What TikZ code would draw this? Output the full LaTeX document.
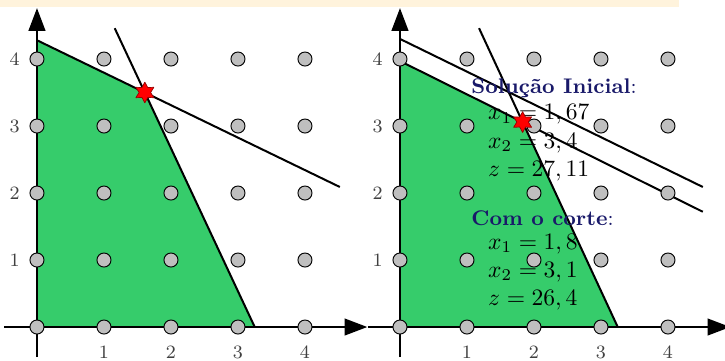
\documentclass[tikz,border=0pt]{standalone}
\usepackage{fontspec}
\usepackage{amsmath}
\usetikzlibrary{arrows.meta,calc,shapes.geometric}
\definecolor{CutPaper}{RGB}{255,243,220}
\definecolor{CutRegion}{RGB}{54,204,107}
\definecolor{CutPoint}{gray}{0.75}
\definecolor{CutInk}{gray}{0}
\definecolor{CutTick}{gray}{0.25}
\definecolor{CutTitle}{RGB}{25,25,105}
\definecolor{CutStar}{RGB}{255,0,0}
\definecolor{CutStarEdge}{RGB}{150,0,0}
\tikzset{
    cut/diagram/.style={
        font=\small,
        draw=CutInk,
        text=CutInk,
        line join=round,
        every node/.style={inner sep=2pt}
    },
    cut/axis/.style={
        draw=CutInk, line width=0.85pt,
        -{Triangle[length=3.4mm, width=2.5mm]}
    },
    cut/constraint/.style={draw=CutInk, line width=0.85pt},
    cut/region/.style={fill=CutRegion},
    cut/point/.style={
        circle, fill=CutPoint, draw=CutInk, line width=0.4pt,
        minimum size=2.1mm, inner sep=0pt
    },
    cut/optimum/.style={
        star, star points=6, star point ratio=1.8,
        fill=CutStar, draw=CutStarEdge, line width=0.3pt,
        minimum size=3.1mm, inner sep=0pt
    },
    cut/tick/.style={font=\footnotesize, text=CutTick},
    cut/title/.style={
        anchor=west, text=CutTitle,
        font=\small\bfseries\addfontfeature{LetterSpace=6}
    },
    cut/values/.style={anchor=west, align=left, font=\normalsize}
}

\begin{document}
\begin{tikzpicture}[cut/diagram]
    \useasboundingbox (-0.552,-0.507) rectangle (10.269,4.881);
    \fill[CutPaper] (-0.552,4.777) rectangle (9.582,4.881);

    % Relaxation without the cut.
    \coordinate (l-top) at (0,4.28);
    \coordinate (l-top-end) at (4.52,2.09);
    \coordinate (l-steep) at (1.16,4.46);
    \coordinate (l-steep-end) at (3.25,0);
    \coordinate (l-opt) at (intersection of l-top--l-top-end and l-steep--l-steep-end);
    \fill[cut/region] (0,0) -- (l-steep-end) -- (l-opt) -- (l-top) -- cycle;
    \draw[cut/constraint] (l-top) -- (l-top-end);
    \draw[cut/constraint] (l-steep) -- (l-steep-end);
    \coordinate (l-x0) at (-0.49,0);
    \coordinate (l-x1) at (4.93,0);
    \coordinate (l-y0) at (0,-0.45);
    \coordinate (l-y1) at (0,4.76);
    \draw[cut/axis] (l-x0) -- (l-x1);
    \draw[cut/axis] (l-y0) -- (l-y1);
    \foreach \x in {0,...,4}
        \foreach \y in {0,...,4}
            \node[cut/point] (l-p-\x-\y) at (\x,\y) {};
    \foreach \i in {1,...,4} {
        \node[cut/tick, anchor=north] (l-tx-\i) at (\i,-0.21) {$\i$};
        \node[cut/tick, anchor=east] (l-ty-\i) at (-0.18,\i) {$\i$};
    }
    \node[cut/optimum] (l-star) at (l-opt) {};

    % Same relaxation after adding the cut.
    \begin{scope}[xshift=5.418cm]
        \coordinate (r-top) at (0,4.30);
        \coordinate (r-top-end) at (4.52,2.09);
        \coordinate (r-cut) at (0,3.97);
        \coordinate (r-cut-end) at (4.52,1.72);
        \coordinate (r-steep) at (1.18,4.46);
        \coordinate (r-steep-end) at (3.25,0);
        \coordinate (r-opt) at (intersection of r-cut--r-cut-end and r-steep--r-steep-end);
        \fill[cut/region] (0,0) -- (r-steep-end) -- (r-opt) -- (r-cut) -- cycle;
        \draw[cut/constraint] (r-top) -- (r-top-end);
        \draw[cut/constraint] (r-cut) -- (r-cut-end);
        \draw[cut/constraint] (r-steep) -- (r-steep-end);
        \coordinate (r-x0) at (-0.48,0);
        \coordinate (r-x1) at (4.93,0);
        \coordinate (r-y0) at (0,-0.45);
        \coordinate (r-y1) at (0,4.76);
        \draw[cut/axis] (r-x0) -- (r-x1);
        \draw[cut/axis] (r-y0) -- (r-y1);
        \foreach \x in {0,...,4}
            \foreach \y in {0,...,4}
                \node[cut/point] (r-p-\x-\y) at (\x,\y) {};
        \foreach \i in {1,...,4} {
            \node[cut/tick, anchor=north] (r-tx-\i) at (\i,-0.21) {$\i$};
            \node[cut/tick, anchor=east] (r-ty-\i) at (-0.18,\i) {$\i$};
        }
        \node[cut/title] (initial) at (0.99,3.57) {Solução Inicial\mdseries\addfontfeature{LetterSpace=0}:};
        \node[cut/values] (initial-values) at (1.24,2.75)
            {$x_1 = 1,67$\\ $x_2 = 3,4$\\ $z = 27,11$};
        \node[cut/title] (with-cut) at (0.99,1.63) {Com o corte\mdseries\addfontfeature{LetterSpace=0}:};
        \node[cut/values] (with-cut-values) at (1.24,0.82)
            {$x_1 = 1,8$\\ $x_2 = 3,1$\\ $z = 26,4$};
        \node[cut/optimum] (r-star) at (r-opt) {};
    \end{scope}
\end{tikzpicture}
\end{document}
